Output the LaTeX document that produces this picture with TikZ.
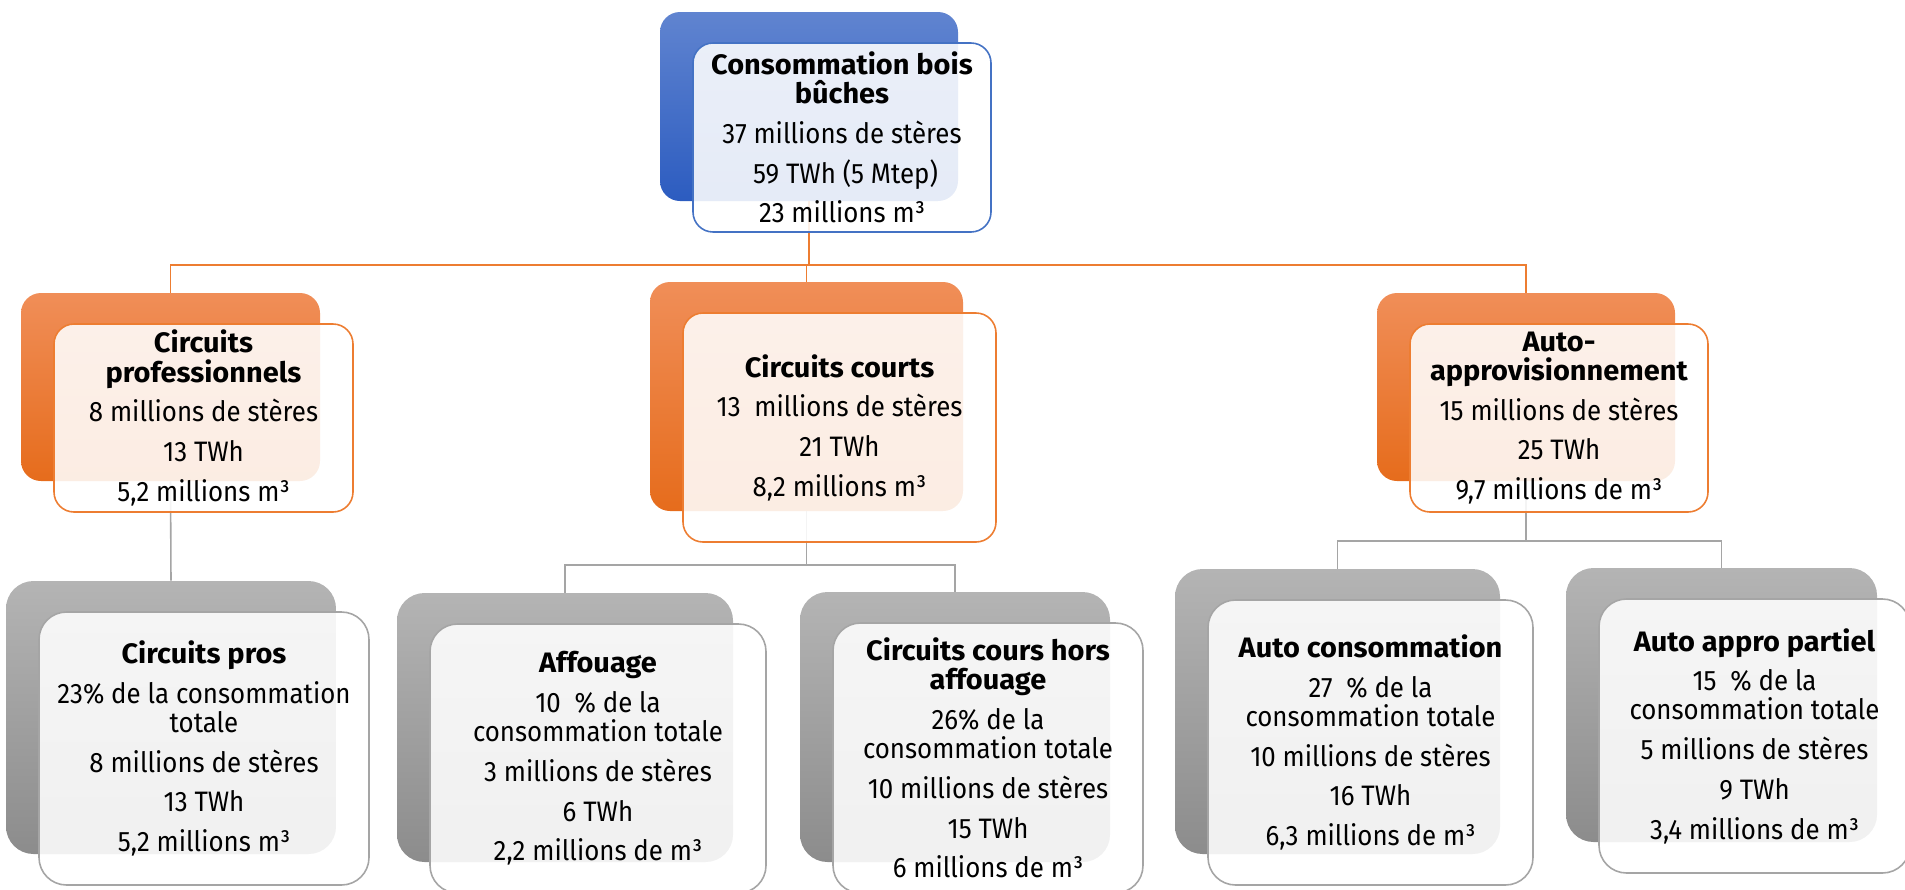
\documentclass[tikz,border=0pt]{standalone}
\usepackage{fontspec}
\setmainfont{Fira Sans}[FakeStretch=0.92, BoldFont={Fira Sans Bold}, BoldFeatures={FakeStretch=1.03}]
\definecolor{bluetop}{RGB}{96,132,208}
\definecolor{bluebot}{RGB}{44,92,192}
\definecolor{blueline}{RGB}{68,114,196}
\definecolor{orangetop}{RGB}{240,142,88}
\definecolor{orangebot}{RGB}{230,108,28}
\definecolor{orangeline}{RGB}{237,125,49}
\definecolor{graytop}{RGB}{180,180,180}
\definecolor{graybot}{RGB}{140,140,140}
\definecolor{grayline}{RGB}{165,165,165}
\tikzset{boxsize/.style 2 args = {minimum width=#1*0.02cm, minimum height=#2*0.02cm}}
\tikzset{backbox/.style = {rounded corners=0.4cm, inner sep=0pt}}
\tikzset{frontbox/.style = {rounded corners=0.4cm, inner sep=0pt, fill=white, fill opacity=0.88, text opacity=1, line width=0.9pt, align=center, font=\fontsize{16pt}{16.6pt}\selectfont}}
\tikzset{blueback/.style = {backbox, top color=bluetop, bottom color=bluebot}}
\tikzset{bluefront/.style = {frontbox, draw=blueline}}
\tikzset{orangeback/.style = {backbox, top color=orangetop, bottom color=orangebot}}
\tikzset{orangefront/.style = {frontbox, draw=orangeline}}
\tikzset{grayback/.style = {backbox, rounded corners=0.55cm, top color=graytop, bottom color=graybot}}
\tikzset{grayfront/.style = {frontbox, rounded corners=0.55cm, draw=grayline}}
\tikzset{orangelink/.style = {draw=orangeline, line width=0.9pt}}
\tikzset{graylink/.style = {draw=grayline, line width=0.9pt}}

\begin{document}
\begin{tikzpicture}[x=0.02cm, y=-0.02cm]
		\clip (0,0) rectangle (1905,889);

		% back boxes
		\node[blueback, boxsize={298}{189}] (topback) at (809,106.5) {};
		\node[orangeback, boxsize={299}{188}] (proback) at (170.5,387) {};
		\node[orangeback, boxsize={313}{229}] (courtback) at (806.5,396.5) {};
		\node[orangeback, boxsize={298}{188}] (autoback) at (1526,387) {};
		\node[grayback, boxsize={330}{273}] (prosback) at (171,717.5) {};
		\node[grayback, boxsize={336}{269}] (affback) at (565,727.5) {};
		\node[grayback, boxsize={310}{270}] (horsback) at (955,727) {};
		\node[grayback, boxsize={325}{285}] (consback) at (1337.5,711.5) {};
		\node[grayback, boxsize={311}{274}] (partback) at (1721.5,705) {};

		% links
		\coordinate (bus1) at (809,265);
		\coordinate (bus2) at (806.5,565);
		\coordinate (bus3) at (1526,541);
		\draw[orangelink] (topback.south) -- (bus1) -| (proback.north);
		\draw[orangelink] (bus1) -| (courtback.north);
		\draw[orangelink] (bus1) -| (autoback.north);
		\draw[graylink] (proback.south) -- (prosback.north);
		\draw[graylink] (courtback.south) -- (bus2) -| (affback.north);
		\draw[graylink] (bus2) -| (horsback.north);
		\draw[graylink] (autoback.south) -- (bus3) -| (consback.north);
		\draw[graylink] (bus3) -| (partback.north);

		% front boxes
		\node[bluefront, boxsize={298}{189}] (top) at (842,137.5)
			{\textbf{Consommation bois}\\\textbf{bûches}\\[6pt]
			 37 millions de stères\\[6pt]\ 59 TWh (5 Mtep)\\[6pt]23 millions m³};
		\node[orangefront, boxsize={299}{188}] (pro) at (203.5,418)
			{\textbf{Circuits}\\\textbf{professionnels}\\[6pt]
			 8 millions de stères\\[6pt]13 TWh\\[6pt]5,2 millions m³};
		\node[orangefront, boxsize={313}{229}] (court) at (839.5,427.5)
			{\textbf{Circuits courts}\\[6pt]
			 13\ \ millions de stères\\[6pt]21 TWh\\[6pt]8,2 millions m³};
		\node[orangefront, boxsize={298}{188}] (auto) at (1559,418)
			{\textbf{Auto-}\\\textbf{approvisionnement}\\[6pt]
			 15 millions de stères\\[6pt]25 TWh\\[6pt]9,7 millions de m³};
		\node[grayfront, boxsize={330}{273}] (pros) at (204,748.5)
			{\textbf{Circuits pros}\\[6pt]
			 23\% de la consommation\\totale\\[6pt]8 millions de stères\\[6pt]13 TWh\\[6pt]5,2 millions m³};
		\node[grayfront, boxsize={336}{269}] (aff) at (598,758.5)
			{\textbf{Affouage}\\[6pt]
			 10\ \ \% de la\\consommation totale\\[6pt]3 millions de stères\\[6pt]6 TWh\\[6pt]2,2 millions de m³};
		\node[grayfront, boxsize={310}{270}] (hors) at (988,758)
			{\textbf{Circuits cours hors}\\\textbf{affouage}\\[6pt]
			 26\% de la\\consommation totale\\[6pt]10 millions de stères\\[6pt]15 TWh\\[6pt]6 millions de m³};
		\node[grayfront, boxsize={325}{285}] (cons) at (1370.5,742.5)
			{\textbf{Auto consommation}\\[6pt]
			 27\ \ \% de la\\consommation totale\\[6pt]10 millions de stères\\[6pt]16 TWh\\[6pt]6,3 millions de m³};
		\node[grayfront, boxsize={311}{274}] (part) at (1754.5,736)
			{\textbf{Auto appro partiel}\\[6pt]
			 15\ \ \% de la\\consommation totale\\[6pt]5 millions de stères\\[6pt]9 TWh\\[6pt]3,4 millions de m³};
	\end{tikzpicture}
\end{document}
